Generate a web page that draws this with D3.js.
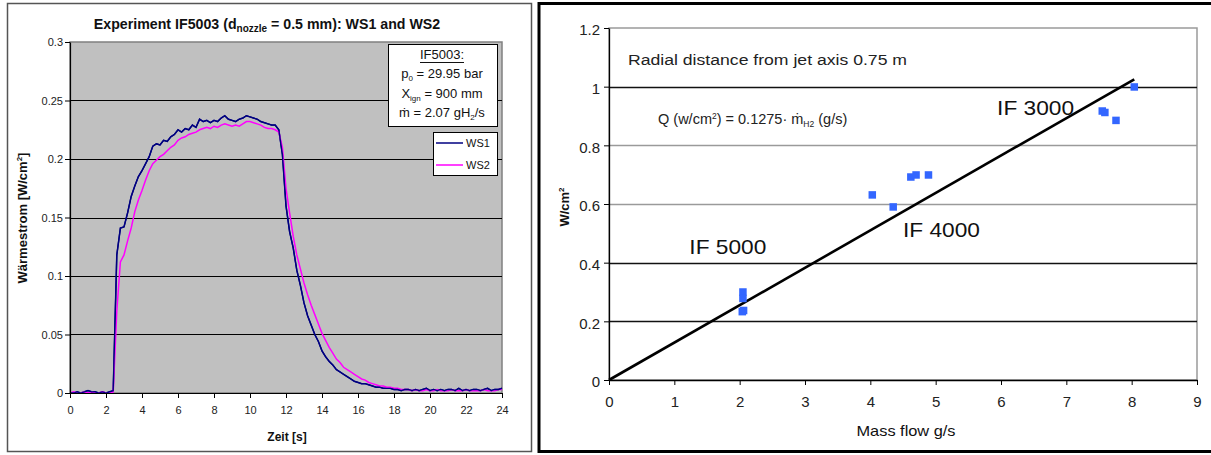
<!DOCTYPE html>
<html>
<head>
<meta charset="utf-8">
<script src="https://cdn.jsdelivr.net/npm/d3@7"></script>
<style>
  html, body { margin: 0; padding: 0; background: #fff; }
  svg { display: block; font-family: "Liberation Sans", Arial, sans-serif; }
</style>
</head>
<body>
<script>
// ---- Left chart: heat flux time series (IF5003) ----
const sampleStep = 0.2; // seconds between samples
const ws1 = [
  0.000,0.000,0.001,0.000,0.001,0.002,0.001,0.001,0.000,0.001,0.000,0.001,0.002,
  0.118,0.141,0.142,0.154,0.168,0.177,0.185,0.190,0.196,0.202,0.211,0.213,
  0.212,0.216,0.215,0.219,0.221,0.225,0.223,0.226,0.225,0.229,
  0.227,0.234,0.232,0.233,0.231,0.233,0.232,0.235,0.237,0.234,
  0.233,0.232,0.234,0.235,0.237,0.236,0.235,0.234,0.232,0.231,
  0.230,0.229,0.229,0.225,0.204,0.160,0.138,0.124,0.105,0.092,
  0.077,0.066,0.058,0.050,0.044,0.036,0.031,0.027,0.024,0.020,
  0.018,0.016,0.014,0.012,0.010,0.009,0.008,0.008,0.007,0.006,
  0.005,0.005,0.004,0.004,0.004,0.003,
  0.003,0.002,0.003,0.003,0.002,0.003,0.002,0.003,0.004,0.002,
  0.003,0.002,0.003,0.002,0.003,0.003,0.002,0.004,0.002,0.003,
  0.002,0.003,0.003,0.002,0.003,0.004,0.002,0.003,0.003,0.004
];
const ws2 = [
  0.000,0.001,0.000,0.000,0.001,0.000,0.001,0.000,0.000,0.001,0.000,0.000,0.001,
  0.070,0.112,0.118,0.130,0.141,0.155,0.165,0.173,0.182,0.190,0.196,0.199,
  0.202,0.204,0.207,0.210,0.212,0.216,0.218,0.219,0.221,0.222,
  0.223,0.225,0.226,0.227,0.226,0.228,0.227,0.229,0.230,0.229,
  0.228,0.229,0.228,0.230,0.232,0.232,0.231,0.230,0.229,0.227,
  0.226,0.226,0.225,0.223,0.210,0.175,0.154,0.134,0.118,0.106,
  0.094,0.084,0.075,0.067,0.059,0.051,0.045,0.039,0.034,0.029,
  0.026,0.022,0.020,0.018,0.016,0.014,0.012,0.011,0.009,0.008,
  0.007,0.006,0.006,0.005,0.005,0.004,
  0.004,0.003,0.003,0.003,0.002,0.003,0.002,0.002,0.003,0.002,
  0.002,0.003,0.002,0.002,0.002,0.003,0.002,0.002,0.002,0.003,
  0.002,0.002,0.002,0.002,0.003,0.002,0.002,0.002,0.003,0.003
];
const timeTicks = [0,2,4,6,8,10,12,14,16,18,20,22,24];
const fluxTicks = [0,0.05,0.1,0.15,0.2,0.25,0.3];
const seriesNames = ["WS1","WS2"];

// ---- Right chart: heat flux vs hydrogen mass flow ----
const massFlow = [2.05,2.05,2.06,2.04,4.03,4.35,4.62,4.70,4.89,7.55,7.59,7.76,8.04];
const heatFlux = [0.300,0.278,0.237,0.233,0.631,0.590,0.692,0.699,0.699,0.917,0.912,0.885,0.999];
const fitSlope = 0.1275;
const fitRange = [0, 8.04];
const massTicks = [0,1,2,3,4,5,6,7,8,9];
const wTicks = [0,0.2,0.4,0.6,0.8,1,1.2];
const groupLabels = ["IF 5000","IF 4000","IF 3000"];
const groupLabelPos = [[1.23,0.428],[4.5,0.486],[5.94,0.905]];

const svg = d3.select("body").append("svg").attr("width",1211).attr("height",455);

// ================= LEFT PANEL =================
svg.append("rect").attr("x",7.5).attr("y",3.5).attr("width",524).attr("height",448)
  .attr("fill","#fff").attr("stroke","#555").attr("stroke-width",1.5);

const xL = d3.scaleLinear().domain([0,24]).range([70,502]);
const yL = d3.scaleLinear().domain([0,0.3]).range([393,42]);

svg.append("rect").attr("x",xL(0)).attr("y",yL(0.3))
  .attr("width",xL(24)-xL(0)).attr("height",yL(0)-yL(0.3))
  .attr("fill","#c0c0c0").attr("stroke","#808080").attr("stroke-width",1.5);

svg.append("g").selectAll("line").data(fluxTicks.filter(v => v > 0 && v < 0.3)).join("line")
  .attr("x1",xL(0)).attr("x2",xL(24))
  .attr("y1",d => Math.round(yL(d))+0.5).attr("y2",d => Math.round(yL(d))+0.5)
  .attr("stroke","#000").attr("stroke-width",1);

svg.append("clipPath").attr("id","clipL").append("rect")
  .attr("x",xL(0)).attr("y",yL(0.3)-2).attr("width",xL(24)-xL(0)+2).attr("height",yL(0)-yL(0.3)+3);

const lineL = d3.line().x((d,i) => xL(i*sampleStep)).y(d => yL(d));
const seriesL = [ws1, ws2];
const seriesColors = ["#000080","#ff00ff"];
svg.append("g").attr("clip-path","url(#clipL)").selectAll("path").data(seriesL).join("path")
  .attr("d",lineL).attr("fill","none")
  .attr("stroke",(d,i) => seriesColors[i]).attr("stroke-width",1.5);
// WS1 redrawn thinner above WS2 so its rising edge stays visible
svg.append("g").attr("clip-path","url(#clipL)").append("path").datum(ws1)
  .attr("d",lineL).attr("fill","none").attr("stroke","#000080").attr("stroke-width",1.3);

const axL = svg.append("g").attr("transform",`translate(${xL(0)},0)`)
  .call(d3.axisLeft(yL).tickValues(fluxTicks).tickFormat(d => String(d)).tickSize(5).tickSizeOuter(0));
const axB = svg.append("g").attr("transform",`translate(0,${yL(0)})`)
  .call(d3.axisBottom(xL).tickValues(timeTicks).tickFormat(d => String(d)).tickSize(5).tickSizeOuter(0));
[axL, axB].forEach(g => {
  g.select(".domain").attr("stroke","#000").attr("stroke-width",1.2);
  g.selectAll(".tick line").attr("stroke","#000");
  g.selectAll(".tick text").attr("font-size",11).attr("fill","#222")
    .attr("font-family","'Liberation Sans', Arial, sans-serif");
});
axL.selectAll(".tick text").attr("x",-7);
axB.selectAll(".tick text").attr("dy","1.2em");

// title
const title = svg.append("text").attr("x",267).attr("y",29).attr("text-anchor","middle")
  .attr("font-size",14.2).attr("font-weight","bold").attr("fill","#111");
title.append("tspan").text("Experiment IF5003 (d");
title.append("tspan").attr("font-size",10).attr("dy",3).text("nozzle");
title.append("tspan").attr("dy",-3).text(" = 0.5 mm): WS1 and WS2");

svg.append("text").attr("x",287).attr("y",441).attr("text-anchor","middle")
  .attr("font-size",12).attr("font-weight","bold").attr("fill","#111").text("Zeit [s]");

const yTitleL = svg.append("text").attr("transform","translate(27,218) rotate(-90)")
  .attr("text-anchor","middle").attr("font-size",13).attr("font-weight","bold").attr("fill","#111");
yTitleL.append("tspan").text("Wärmestrom [W/cm");
yTitleL.append("tspan").attr("font-size",8).attr("dy",-5).text("2");
yTitleL.append("tspan").attr("dy",5).text("]");

// info box
svg.append("rect").attr("x",388.5).attr("y",44.5).attr("width",109).attr("height",82)
  .attr("fill","#fff").attr("stroke","#000").attr("stroke-width",1);
const infoX = 442;
const infoFont = 13;
svg.append("text").attr("x",infoX).attr("y",59).attr("text-anchor","middle")
  .attr("font-size",infoFont).attr("fill","#111").text("IF5003:");
svg.append("line").attr("x1",420).attr("x2",464).attr("y1",62.5).attr("y2",62.5).attr("stroke","#111");
const p0 = svg.append("text").attr("x",infoX).attr("y",78).attr("text-anchor","middle")
  .attr("font-size",infoFont).attr("fill","#111");
p0.append("tspan").text("p");
p0.append("tspan").attr("font-size",8).attr("dy",3).text("0");
p0.append("tspan").attr("dy",-3).text(" = 29.95 bar");
const xign = svg.append("text").attr("x",infoX).attr("y",98).attr("text-anchor","middle")
  .attr("font-size",infoFont).attr("fill","#111");
xign.append("tspan").text("X");
xign.append("tspan").attr("font-size",8).attr("dy",3).text("ign");
xign.append("tspan").attr("dy",-3).text(" = 900 mm");
const mdot = svg.append("text").attr("x",infoX).attr("y",117).attr("text-anchor","middle")
  .attr("font-size",infoFont).attr("fill","#111");
mdot.append("tspan").text("ṁ = 2.07 gH");
mdot.append("tspan").attr("font-size",8).attr("dy",3).text("2");
mdot.append("tspan").attr("dy",-3).text("/s");

// legend
svg.append("rect").attr("x",433.5).attr("y",132.5).attr("width",64).attr("height",43)
  .attr("fill","#fff").attr("stroke","#000").attr("stroke-width",1);
const legend = svg.append("g").selectAll("g").data(seriesNames).join("g")
  .attr("transform",(d,i) => `translate(436,${143 + i*22})`);
legend.append("line").attr("x1",0).attr("x2",27).attr("y1",0).attr("y2",0)
  .attr("stroke",(d,i) => seriesColors[i]).attr("stroke-width",1.5);
legend.append("text").attr("x",30).attr("y",4).attr("font-size",11).attr("fill","#111").text(d => d);

// ================= RIGHT PANEL =================
svg.append("rect").attr("x",539).attr("y",3.5).attr("width",700).attr("height",448)
  .attr("fill","#fff").attr("stroke","#000").attr("stroke-width",3);

const xR = d3.scaleLinear().domain([0,9]).range([609,1197]);
const yR = d3.scaleLinear().domain([0,1.2]).range([380,28]);

svg.append("rect").attr("x",xR(0)).attr("y",yR(1.2)).attr("width",xR(9)-xR(0)).attr("height",yR(0)-yR(1.2))
  .attr("fill","#fff").attr("stroke","#9a9a9a").attr("stroke-width",1.5);

const darkGrid = [0.2,0.4,1];
svg.append("g").selectAll("line").data(wTicks.filter(v => v > 0 && v < 1.2)).join("line")
  .attr("x1",xR(0)).attr("x2",xR(9))
  .attr("y1",d => Math.round(yR(d))+0.5).attr("y2",d => Math.round(yR(d))+0.5)
  .attr("stroke",d => darkGrid.includes(d) ? "#111" : "#9a9a9a").attr("stroke-width",1.3);

const axRL = svg.append("g").attr("transform",`translate(${xR(0)},0)`)
  .call(d3.axisLeft(yR).tickValues(wTicks).tickFormat(d => String(d)).tickSize(5).tickSizeOuter(0));
const axRB = svg.append("g").attr("transform",`translate(0,${yR(0)})`)
  .call(d3.axisBottom(xR).tickValues(massTicks).tickFormat(d => String(d)).tickSize(5).tickSizeOuter(0));
[axRL, axRB].forEach(g => {
  g.select(".domain").attr("stroke","#000").attr("stroke-width",1.3);
  g.selectAll(".tick line").attr("stroke","#000");
  g.selectAll(".tick text").attr("font-size",15).attr("fill","#222")
    .attr("font-family","'Liberation Sans', Arial, sans-serif");
});
axRL.selectAll(".tick text").attr("x",-9).attr("dy","0.45em");
axRB.selectAll(".tick text").attr("dy","1.25em");

// fitted line Q = 0.1275 * mdot
svg.append("path").datum(fitRange)
  .attr("d",d3.line().x(d => xR(d)).y(d => yR(fitSlope*d)))
  .attr("stroke","#000").attr("stroke-width",2.6).attr("fill","none");

// measured points
const pts = massFlow.map((m,i) => ({m, q: heatFlux[i]}));
svg.append("g").selectAll("rect").data(pts).join("rect")
  .attr("x",d => xR(d.m)-3.75).attr("y",d => yR(d.q)-3.75).attr("width",7.5).attr("height",7.5)
  .attr("fill","#3366ff");

// annotations
svg.append("text").attr("x",628).attr("y",65).attr("font-size",15.5).attr("fill","#222")
  .attr("textLength",279).attr("lengthAdjust","spacingAndGlyphs")
  .text("Radial distance from jet axis 0.75 m");
const formula = svg.append("text").attr("x",658).attr("y",124).attr("font-size",14.5).attr("fill","#222");
formula.append("tspan").text("Q (w/cm");
formula.append("tspan").attr("font-size",8.5).attr("dy",-5).text("2");
formula.append("tspan").attr("dy",5).text(") = 0.1275· ṁ");
formula.append("tspan").attr("font-size",8.5).attr("dy",3).text("H2");
formula.append("tspan").attr("dy",-3).text(" (g/s)");

svg.append("g").selectAll("text").data(groupLabels).join("text")
  .attr("x",(d,i) => xR(groupLabelPos[i][0])).attr("y",(d,i) => yR(groupLabelPos[i][1]))
  .attr("font-size",21).attr("fill","#111").attr("textLength",77).attr("lengthAdjust","spacingAndGlyphs")
  .text(d => d);

svg.append("text").attr("x",906).attr("y",436).attr("text-anchor","middle")
  .attr("font-size",15).attr("fill","#111").attr("textLength",99).attr("lengthAdjust","spacingAndGlyphs")
  .text("Mass flow g/s");

const yTitleR = svg.append("text").attr("transform","translate(569,207) rotate(-90)")
  .attr("text-anchor","middle").attr("font-size",13).attr("font-weight","bold").attr("fill","#111");
yTitleR.append("tspan").text("W/cm");
yTitleR.append("tspan").attr("font-size",8).attr("dy",-5).text("2");
</script>
</body>
</html>
